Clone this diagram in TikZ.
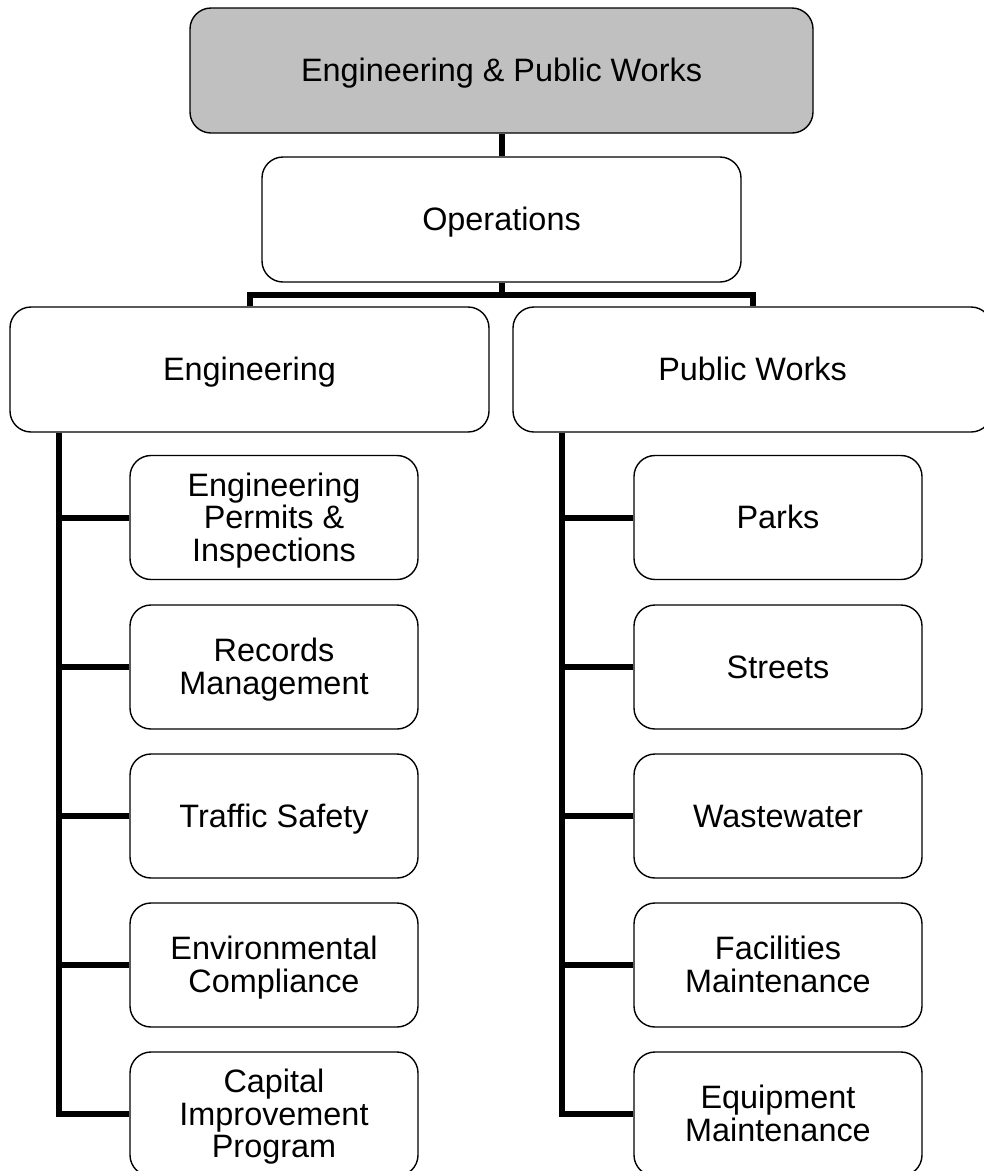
\documentclass[tikz,border=0pt]{standalone}
\usepackage{fontspec}
\setmainfont{Liberation Sans}
\definecolor{headgray}{HTML}{C0C0C0}
% box labels: the block of lines is centred on the span from the
% first line's cap height down to the last line's baseline
\newlength\capht
\newcommand\boxlines[2]{%
  \settoheight\capht{H}%
  \raisebox{0pt}[\capht][#1]{\vtop{\halign{\hfil##\hfil\cr#2\crcr}}}}
\begin{document}
\begin{tikzpicture}[x=1pt,y=-1pt,
  unit/.style={draw=black, line width=1.4pt, fill=white, rounded corners=21pt,
    inner sep=0pt, font=\fontsize{32.4}{32.5}\selectfont},
  bigbox/.style={unit, minimum width=479pt, minimum height=125pt},
  smallbox/.style={unit, minimum width=288pt, minimum height=124pt},
  link/.style={draw=black, line width=6pt}]
\useasboundingbox (0,0) rectangle (984,1171);
\clip (0,0) rectangle (984,1171);

% top of the hierarchy
\node[bigbox, fill=headgray, minimum width=623pt] (top) at (501.5,70.5) {\boxlines{0pt}{Engineering \& Public Works}};
\node[bigbox] (ops) at (501.5,219.5) {\boxlines{0pt}{Operations}};
\node[bigbox] (eng) at (249.5,369.5) {\boxlines{0pt}{Engineering}};
\node[bigbox] (pw)  at (752.5,369.5) {\boxlines{0pt}{Public Works}};

% engineering divisions
\node[smallbox] (e1) at (274,517.5) {\boxlines{65pt}{Engineering\cr Permits \&\cr Inspections}};
\node[smallbox] (e2) at (274,667)   {\boxlines{32.5pt}{Records\cr Management}};
\node[smallbox] (e3) at (274,816)   {\boxlines{0pt}{Traffic Safety}};
\node[smallbox] (e4) at (274,965)   {\boxlines{32.5pt}{Environmental\cr Compliance}};
\node[smallbox] (e5) at (274,1114)  {\boxlines{65pt}{Capital\cr Improvement\cr Program}};

% public works divisions
\node[smallbox] (p1) at (778,517.5) {\boxlines{0pt}{Parks}};
\node[smallbox] (p2) at (778,667)   {\boxlines{0pt}{Streets}};
\node[smallbox] (p3) at (778,816)   {\boxlines{0pt}{Wastewater}};
\node[smallbox] (p4) at (778,965)   {\boxlines{32.5pt}{Facilities\cr Maintenance}};
\node[smallbox] (p5) at (778,1114)  {\boxlines{32.5pt}{Equipment\cr Maintenance}};

% connectors
\coordinate (bar) at (501.5,295);
\coordinate (spineL) at (58.5,0);
\coordinate (spineR) at (562,0);

\draw[link] (ops.north) -- (ops.north |- top.south);
\draw[link] (ops.south) -- (ops.south |- bar);
\draw[link] (eng.north) -- (eng.north |- bar) -- (pw.north |- bar) -- (pw.north);

\draw[link] (spineL |- eng.south) -- (spineL |- e5.west) -- (e5.west);
\foreach \c in {e1,e2,e3,e4}
  \draw[link] (spineL |- \c.west) -- (\c.west);

\draw[link] (spineR |- pw.south) -- (spineR |- p5.west) -- (p5.west);
\foreach \c in {p1,p2,p3,p4}
  \draw[link] (spineR |- \c.west) -- (\c.west);
\end{tikzpicture}
\end{document}
